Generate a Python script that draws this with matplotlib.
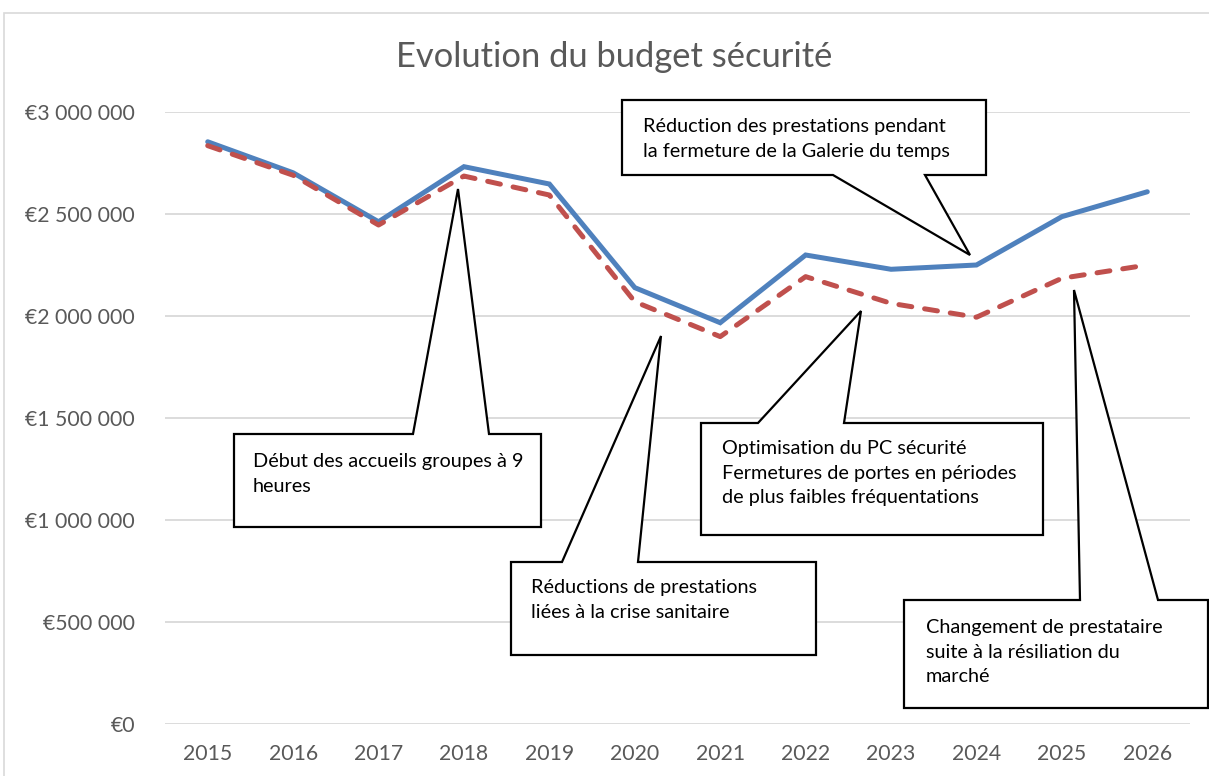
"""
Evolution du budget sécurité — recréation du graphique Excel avec bulles de commentaires.
"""

import matplotlib
matplotlib.use("Agg")
import matplotlib.pyplot as plt
from matplotlib.patches import Polygon, Rectangle

# --- Données ---------------------------------------------------------------
annees = ["2015", "2016", "2017", "2018", "2019", "2020",
          "2021", "2022", "2023", "2024", "2025", "2026"]
budget_bleu = [2854000, 2702000, 2462000, 2732000, 2647000, 2139000,
               1967000, 2299000, 2229000, 2250000, 2487000, 2609000]
budget_rouge = [2835000, 2690000, 2446000, 2686000, 2593000, 2070000,
                1899000, 2193000, 2062000, 1994000, 2185000, 2250000]
graduations_y = [0, 500000, 1000000, 1500000, 2000000, 2500000, 3000000]

titre = "Evolution du budget sécurité"

# Bulles : texte, boîte (x0, y0, x1, y1), base de la pointe, pointe, côté
# coordonnées en pixels de l'image (origine en haut à gauche)
bulles = [
    ("Réduction des prestations pendant\nla fermeture de la Galerie du temps",
     (622, 100, 986, 175), (833, 925), (970, 255), "bas"),
    ("Début des accueils groupes à 9\nheures",
     (234, 434, 541, 527), (413, 489), (458, 189), "haut"),
    ("Réductions de prestations\nliées à la crise sanitaire",
     (511, 562, 816, 655), (562, 638), (661, 336), "haut"),
    ("Optimisation du PC sécurité\nFermetures de portes en périodes\nde plus faibles fréquentations",
     (701, 423, 1043, 535), (758, 844), (861, 311), "haut"),
    ("Changement de prestataire\nsuite à la résiliation du\nmarché",
     (904, 600, 1208, 708), (1080, 1158), (1074, 290), "haut"),
]
# position (gauche, ligne de base de la 1re ligne) du texte de chaque bulle
positions_texte = [(643, 132), (253, 467), (531, 593), (722, 454), (926, 633)]
INTERLIGNE = 24.5

LARGEUR, HAUTEUR = 1209, 776
BLEU = "#4F81BD"
ROUGE = "#C0504D"
GRIS_TEXTE = "#595959"
GRIS_GRILLE = "#D9D9D9"

plt.rcParams["font.family"] = ["Lato", "DejaVu Sans"]


def px(x, y):
    """Pixels de l'image -> fraction de figure."""
    return (x / LARGEUR, 1 - y / HAUTEUR)


def forme_bulle(boite, base, pointe, cote):
    x0, y0, x1, y1 = boite
    b1, b2 = base
    if cote == "haut":
        pts = [(x0, y0), (b1, y0), pointe, (b2, y0), (x1, y0), (x1, y1), (x0, y1)]
    else:
        pts = [(x0, y0), (x1, y0), (x1, y1), (b2, y1), pointe, (b1, y1), (x0, y1)]
    return [px(x, y) for x, y in pts]


fig = plt.figure(figsize=(LARGEUR / 100, HAUTEUR / 100), dpi=100)
fig.patch.set_facecolor("white")

# cadre du graphique
fig.patches.append(Rectangle(px(4, 790), (1220 - 4) / LARGEUR, (790 - 13) / HAUTEUR,
                             transform=fig.transFigure, fill=False,
                             edgecolor=GRIS_GRILLE, linewidth=1.2))

ax = fig.add_axes([165 / LARGEUR, 1 - 724 / HAUTEUR,
                   (1190 - 165) / LARGEUR, (724 - 112) / HAUTEUR])
x = list(range(len(annees)))
ax.plot(x, budget_bleu, color=BLEU, linewidth=3.6, solid_capstyle="round",
        solid_joinstyle="miter", zorder=3)
ax.plot(x, budget_rouge, color=ROUGE, linewidth=3.6, linestyle=(0, (2.6, 2.6)),
        dash_capstyle="round", zorder=3)

ax.set_xlim(-0.5, len(annees) - 0.5)
ax.set_ylim(0, 3000000)
ax.set_xticks(x)
ax.set_xticklabels(annees)
ax.set_yticks(graduations_y)
ax.set_yticklabels(["€" + f"{v:,}".replace(",", " ") for v in graduations_y])
ax.tick_params(axis="both", length=0, labelsize=15.3, colors=GRIS_TEXTE)
ax.tick_params(axis="y", pad=21.5)
ax.tick_params(axis="x", pad=14.5)
ax.grid(axis="y", color=GRIS_GRILLE, linewidth=1.3)
ax.set_axisbelow(True)
for s in ax.spines.values():
    s.set_visible(False)

fig.text(*px(614, 57), titre, ha="center", va="center", fontsize=24.8,
         color=GRIS_TEXTE)

# bulles de commentaires
for (texte, boite, base, pointe, cote), (tx, ty) in zip(bulles, positions_texte):
    fig.patches.append(Polygon(forme_bulle(boite, base, pointe, cote), closed=True,
                               transform=fig.transFigure, facecolor="white",
                               edgecolor="black", linewidth=1.6, zorder=5))
    for i, ligne in enumerate(texte.split("\n")):
        fig.text(*px(tx, ty + i * INTERLIGNE), ligne, ha="left", va="baseline",
                 fontsize=14.3, color="black", zorder=6)

fig.savefig("out.png", dpi=100)
